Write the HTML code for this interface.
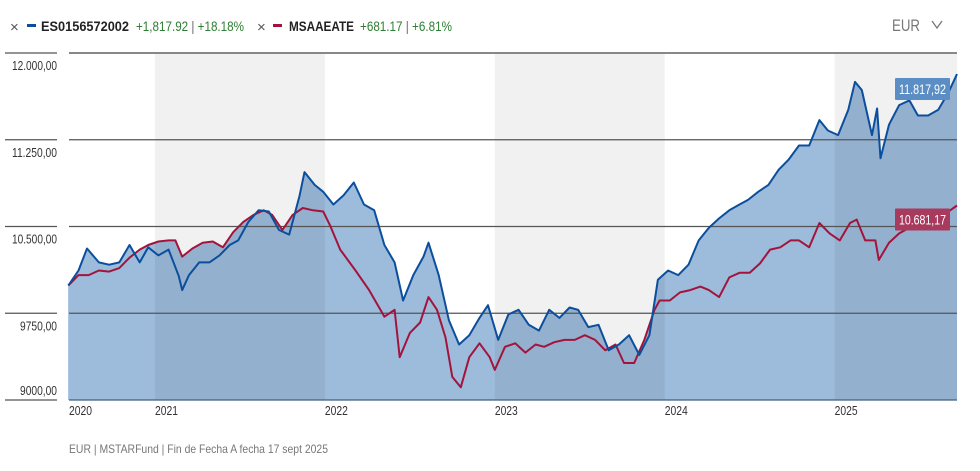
<!DOCTYPE html>
<html><head><meta charset="utf-8">
<style>
body{margin:0;background:#fff;width:980px;height:471px;overflow:hidden;font-family:"Liberation Sans",sans-serif;}
svg{display:block}
</style></head>
<body>
<svg id="chart" width="980" height="471" xmlns="http://www.w3.org/2000/svg" font-family="Liberation Sans, sans-serif">
  <g id="legend" font-size="14">
    <text x="10" y="32" fill="#555" font-size="15">×</text>
    <rect x="27" y="24" width="9" height="3" fill="#0b4f9c"/>
    <text x="41" y="31" font-weight="bold" fill="#222" textLength="88" lengthAdjust="spacingAndGlyphs">ES0156572002</text>
    <text x="136" y="31" fill="#2e7d32" textLength="108" lengthAdjust="spacingAndGlyphs">+1,817.92 <tspan fill="#666">|</tspan> +18.18%</text>
    <text x="257" y="32" fill="#555" font-size="15">×</text>
    <rect x="273" y="24" width="9" height="3" fill="#a3143c"/>
    <text x="289" y="31" font-weight="bold" fill="#222" textLength="65" lengthAdjust="spacingAndGlyphs">MSAAEATE</text>
    <text x="360" y="31" fill="#2e7d32" textLength="92" lengthAdjust="spacingAndGlyphs">+681.17 <tspan fill="#666">|</tspan> +6.81%</text>
  </g>
  <g>
    <text x="892" y="31" font-size="17" fill="#777" textLength="28" lengthAdjust="spacingAndGlyphs">EUR</text>
    <path d="M932 21 L937 28 L942 21" fill="none" stroke="#777" stroke-width="1.3"/>
  </g>
  <g id="fills"></g>
  <g id="bandsOver"></g>
  <g id="grid"></g>
  <g id="lines"></g>
  <g id="xaxis"></g>
  <g id="yaxis"></g>
  <g id="endlabels"></g>
  <text x="69" y="453" font-size="12" fill="#777" textLength="259" lengthAdjust="spacingAndGlyphs">EUR | MSTARFund | Fin de Fecha A fecha 17 sept 2025</text>
</svg>
<script>
const fundDates=[2020.49,2020.55,2020.60,2020.67,2020.73,2020.79,2020.85,2020.91,2020.96,2021.02,2021.08,2021.14,2021.16,2021.20,2021.26,2021.32,2021.38,2021.44,2021.49,2021.55,2021.61,2021.67,2021.73,2021.79,2021.85,2021.88,2021.94,2021.99,2022.05,2022.11,2022.17,2022.23,2022.29,2022.35,2022.41,2022.46,2022.52,2022.58,2022.61,2022.67,2022.73,2022.79,2022.85,2022.91,2022.96,2023.02,2023.08,2023.14,2023.20,2023.26,2023.32,2023.38,2023.44,2023.49,2023.55,2023.61,2023.67,2023.73,2023.79,2023.85,2023.91,2023.96,2024.02,2024.08,2024.14,2024.20,2024.26,2024.32,2024.38,2024.44,2024.49,2024.55,2024.61,2024.67,2024.73,2024.79,2024.85,2024.91,2024.96,2025.02,2025.08,2025.12,2025.16,2025.22,2025.25,2025.27,2025.32,2025.38,2025.44,2025.49,2025.55,2025.61,2025.67,2025.72];
const fundValues=[9990,10120,10310,10190,10170,10190,10340,10190,10320,10250,10300,10070,9950,10080,10190,10190,10250,10340,10380,10540,10640,10630,10470,10430,10760,10970,10860,10800,10690,10770,10880,10690,10640,10340,10190,9860,10080,10240,10360,10080,9690,9480,9560,9710,9820,9520,9740,9780,9650,9600,9780,9710,9800,9780,9630,9650,9430,9480,9560,9390,9560,10040,10120,10080,10170,10380,10490,10570,10640,10690,10730,10800,10860,10990,11080,11200,11200,11420,11330,11290,11510,11750,11680,11290,11520,11090,11380,11550,11590,11460,11460,11510,11660,11817.92];
const indexDates=[2020.49,2020.55,2020.61,2020.67,2020.73,2020.79,2020.85,2020.91,2020.96,2021.02,2021.08,2021.12,2021.16,2021.22,2021.28,2021.34,2021.40,2021.46,2021.52,2021.58,2021.64,2021.69,2021.75,2021.81,2021.87,2021.93,2021.99,2022.03,2022.09,2022.18,2022.26,2022.35,2022.41,2022.44,2022.50,2022.56,2022.61,2022.66,2022.71,2022.75,2022.80,2022.85,2022.91,2022.97,2023.00,2023.06,2023.12,2023.18,2023.24,2023.29,2023.35,2023.41,2023.47,2023.53,2023.59,2023.65,2023.71,2023.76,2023.82,2023.88,2023.94,2023.97,2024.03,2024.09,2024.15,2024.21,2024.26,2024.32,2024.38,2024.44,2024.50,2024.56,2024.62,2024.68,2024.74,2024.79,2024.85,2024.91,2024.97,2025.03,2025.09,2025.13,2025.18,2025.24,2025.26,2025.32,2025.38,2025.44,2025.50,2025.56,2025.62,2025.68,2025.72];
const indexValues=[9990,10080,10080,10120,10110,10140,10230,10300,10340,10370,10380,10380,10240,10310,10360,10370,10320,10450,10540,10600,10640,10600,10470,10600,10660,10640,10630,10510,10300,10120,9950,9720,9780,9370,9580,9670,9890,9780,9540,9200,9110,9370,9490,9370,9260,9460,9490,9410,9480,9460,9500,9520,9520,9560,9520,9430,9480,9320,9320,9520,9780,9860,9860,9930,9950,9980,9950,9890,10060,10100,10100,10180,10300,10320,10380,10380,10320,10530,10440,10380,10530,10560,10380,10380,10210,10360,10440,10490,10500,10530,10560,10640,10681.17];
const yTicks=[12000,11250,10500,9750,9000];
const yTickLabels=["12.000,00","11.250,00","10.500,00","9750,00","9000,00"];
const xYears=[2020,2021,2022,2023,2024,2025];
const shadedYears=[2021,2023,2025];
const endLabels=["11.817,92","10.681,17"];

const NS="http://www.w3.org/2000/svg";
const PL=69,PR=957,PT=53,PB=400;
const T0=2020.494,T1=2025.72;
const yMin=9000,yMax=12000;
function xs(t){return PL+(t-T0)/(T1-T0)*(PR-PL);}
function ys(v){return PB-(v-yMin)/(yMax-yMin)*(PB-PT);}
function mk(tag,attrs,parent){const e=document.createElementNS(NS,tag);for(const k in attrs)e.setAttribute(k,attrs[k]);parent.appendChild(e);return e;}
const G=id=>document.getElementById(id);

function linePath(d,v){return d.map((t,i)=>(i?'L':'M')+xs(t).toFixed(1)+' '+ys(v[i]).toFixed(1)).join(' ');}
function areaPath(d,v){return linePath(d,v)+' L'+xs(d[d.length-1]).toFixed(1)+' '+PB+' L'+xs(d[0]).toFixed(1)+' '+PB+' Z';}
const fa=mk('path',{d:areaPath(indexDates,indexValues),fill:'#9dbbdb'},G('fills'));


const fb=mk('path',{d:areaPath(fundDates,fundValues),fill:'#9dbbdb'},G('fills'));


shadedYears.forEach(yr=>{
  const x0=Math.max(PL,xs(yr)),x1=Math.min(PR,xs(yr+1));
  const r=mk('rect',{x:x0,y:PT,width:x1-x0,height:PB-PT,fill:'rgba(0,0,0,0.055)'},G('bandsOver'));
  
  
});
yTicks.forEach((v,i)=>{
  const y=ys(v);
  const top=i===0;
  const gl=mk('line',{x1:PL,x2:PR,y1:y,y2:y,stroke:top?'#888':(i===yTicks.length-1?'#3d5f80':'#555'),'stroke-width':top?2:1.2},G('grid'));
  
  
  const tl=mk('line',{x1:5,x2:57,y1:y,y2:y,stroke:'#555','stroke-width':1.2},G('yaxis'));
  
  
  const below=i<yTicks.length-1;
  const lab=yTickLabels[i];
  const t=mk('text',{x:57,y:below?y+17:y-5,'text-anchor':'end','font-size':'12.5',fill:'#333',textLength:lab.length>7?45:37,lengthAdjust:'spacingAndGlyphs'},G('yaxis'));
  t.textContent=lab;
  
  
});
xYears.forEach(yr=>{
  const x=Math.max(PL,xs(yr));
  const t=mk('text',{x:x,y:415,'font-size':'12.5',fill:'#333',textLength:23,lengthAdjust:'spacingAndGlyphs'},G('xaxis'));
  t.textContent=yr;
  
  
});
const li=mk('path',{d:linePath(indexDates,indexValues),fill:'none',stroke:'#a3143c','stroke-width':2,'stroke-linejoin':'round'},G('lines'));


const lf=mk('path',{d:linePath(fundDates,fundValues),fill:'none',stroke:'#0b4f9c','stroke-width':2,'stroke-linejoin':'round'},G('lines'));


[[fundValues,'#5b8ec4','fund-end-label'],[indexValues,'#a83a5e','index-end-label']].forEach((s,i)=>{
  const y=ys(s[0][s[0].length-1]);
  const yc=i===0?y+15:y+14;
  const g=mk('g',{},G('endlabels'));
  
  
  mk('rect',{x:895,y:yc-11,width:55,height:22,fill:s[1],rx:1},g);
  const t=mk('text',{x:899,y:yc+5,'font-size':'13.5',fill:'#fff',textLength:47,lengthAdjust:'spacingAndGlyphs'},g);
  t.textContent=endLabels[i];
});
</script>
</body></html>
